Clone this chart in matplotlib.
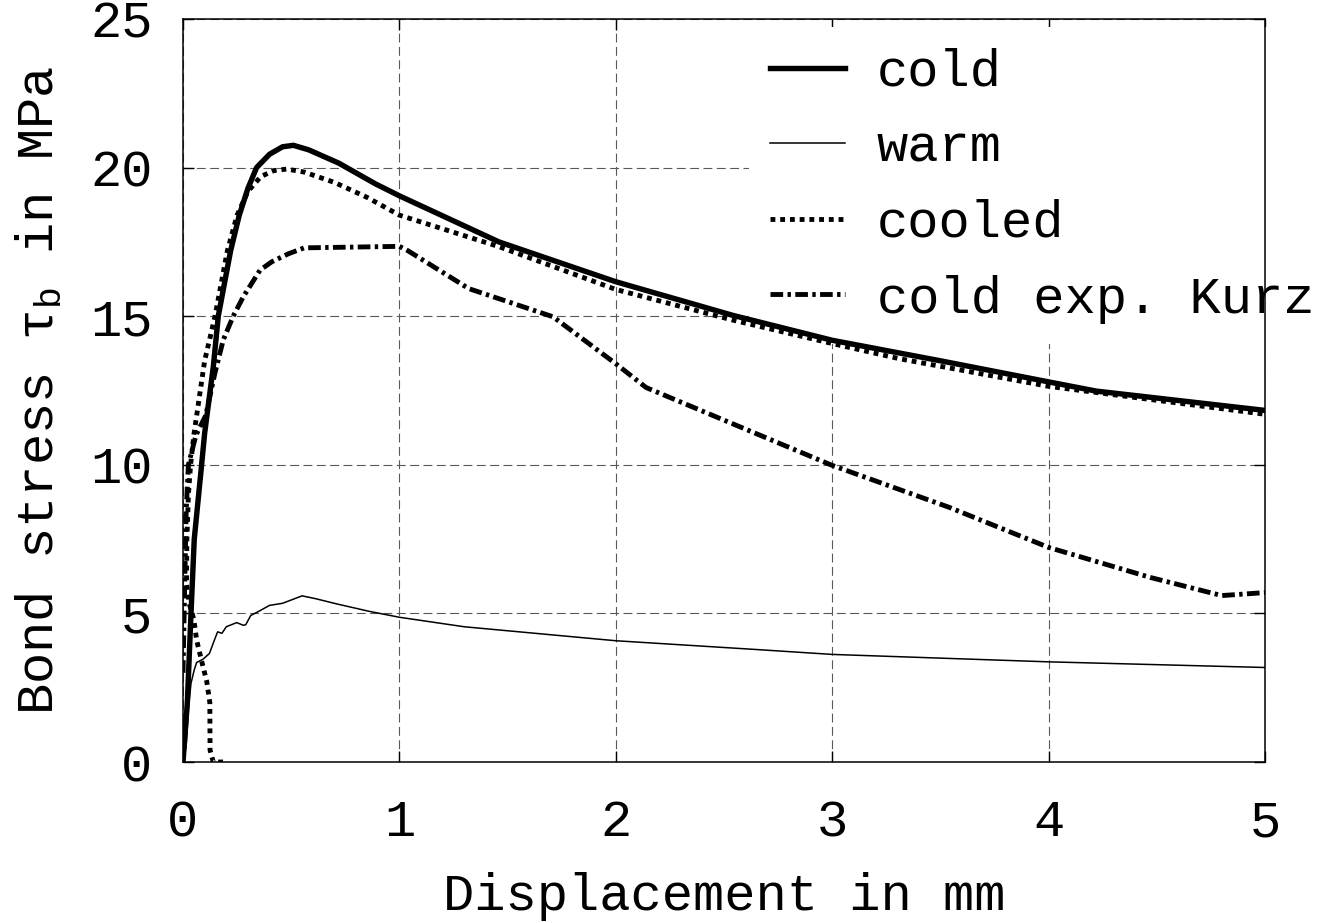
import numpy as np
import matplotlib
matplotlib.use("Agg")
import matplotlib.pyplot as plt

plt.rcParams['font.family'] = ['Liberation Mono', 'DejaVu Sans']
plt.rcParams['mathtext.fontset'] = 'custom'
plt.rcParams['mathtext.rm'] = 'Liberation Mono'
plt.rcParams['mathtext.it'] = 'Liberation Mono'

# ---- data (displacement in mm, bond stress in MPa) ----
cold_x = [0.0, 0.01, 0.02, 0.037, 0.052, 0.086, 0.10, 0.14, 0.163, 0.22, 0.26,
          0.30, 0.34, 0.40, 0.46, 0.51, 0.58, 0.72, 0.89, 1.0, 1.46, 2.0,
          2.54, 3.0, 3.5, 4.0, 4.22, 5.0]
cold_y = [0.0, 1.0, 2.0, 5.0, 7.5, 10.0, 11.06, 13.3, 15.0, 17.2, 18.4,
          19.3, 20.0, 20.45, 20.7, 20.75, 20.6, 20.15, 19.45, 19.05, 17.5, 16.16,
          15.03, 14.19, 13.5, 12.79, 12.48, 11.83]

warm_x = [0.0, 0.014, 0.026, 0.037, 0.052, 0.063, 0.091, 0.122, 0.145, 0.16,
          0.18, 0.20, 0.217, 0.248, 0.279, 0.29, 0.313, 0.35, 0.40, 0.46, 0.55,
          0.61, 0.71, 0.86, 1.0, 1.3, 2.0, 2.66, 3.0, 4.0, 5.0]
warm_y = [0.0, 0.5, 1.86, 2.65, 3.1, 3.35, 3.45, 3.65, 4.1, 4.38,
          4.33, 4.55, 4.6, 4.69, 4.6, 4.62, 4.93, 5.07, 5.27, 5.34, 5.59,
          5.5, 5.32, 5.07, 4.87, 4.55, 4.08, 3.78, 3.62, 3.37, 3.18]

cooled_x = [0.185, 0.14, 0.125, 0.124, 0.11, 0.086, 0.063, 0.05, 0.03, 0.016,
            0.018, 0.025, 0.035, 0.05, 0.07, 0.10, 0.148, 0.205, 0.25, 0.30,
            0.36, 0.42, 0.48, 0.56, 0.70, 0.85, 1.0, 1.46, 2.0, 2.54, 3.0,
            3.31, 4.0, 5.0]
cooled_y = [0.0, 0.0, 0.4, 2.0, 2.7, 3.4, 4.1, 4.8, 5.3, 6.0,
            7.5, 9.0, 10.0, 11.0, 12.0, 13.5, 15.0, 17.2, 18.4, 19.2,
            19.7, 19.9, 19.95, 19.85, 19.5, 19.0, 18.4, 17.34, 15.9, 14.87, 14.08,
            13.57, 12.64, 11.7]

kurz_x = [0.0, 0.008, 0.015, 0.025, 0.06, 0.105, 0.148, 0.186, 0.232, 0.279,
          0.356, 0.41, 0.487, 0.56, 1.0, 1.04, 1.32, 1.71, 2.0, 2.14, 2.54,
          3.0, 3.54, 4.0, 4.47, 4.8, 5.0]
kurz_y = [3.0, 6.0, 8.5, 10.0, 11.0, 11.66, 13.1, 14.2, 15.0, 15.66,
          16.55, 16.83, 17.1, 17.3, 17.35, 17.2, 15.93, 14.98, 13.4, 12.6, 11.38,
          9.98, 8.57, 7.22, 6.21, 5.6, 5.7]

x_ticks = [0, 1, 2, 3, 4, 5]
y_ticks = [0, 5, 10, 15, 20, 25]

fs = 37.5

fig = plt.figure(figsize=(13.3, 9.23), dpi=100)
ax = fig.add_axes([183 / 1330, 1 - 762 / 923, (1265 - 183) / 1330, (762 - 19) / 923])

ax.plot(cold_x, cold_y, color='black', lw=3.9, solid_joinstyle='round',
        label='cold', zorder=3)
ax.plot(warm_x, warm_y, color='black', lw=1.1, label='warm', zorder=3)
ax.plot(cooled_x, cooled_y, color='black', lw=3.5, linestyle=(0, (1, 1)),
        label='cooled', zorder=3)
ax.plot(kurz_x, kurz_y, color='black', lw=3.5, linestyle=(0, (2.6, 0.9, 0.7, 0.9)),
        label='cold exp. Kurz', zorder=3)

ax.set_xlim(0, 5)
ax.set_ylim(0, 25)
ax.set_xticks(x_ticks)
ax.set_yticks(y_ticks)
ax.tick_params(direction='in', length=8, width=1.0, top=True, right=True,
               labelsize=fs)
ax.tick_params(axis='x', pad=26)
ax.tick_params(axis='y', pad=22)
ax.grid(True, color='0.35', linestyle=(0, (8, 4)), linewidth=0.8)
for sp in ax.spines.values():
    sp.set_linewidth(1.1)
    sp.set_zorder(4)

ax.set_xlabel('Displacement in mm', fontsize=fs, labelpad=18)
ax.set_ylabel(r'Bond stress $\tau_\mathrm{b}$ in MPa', fontsize=fs, labelpad=19)

leg = ax.legend(loc='upper left', bbox_to_anchor=(749 / 1330, 1 - 27 / 923),
                bbox_transform=fig.transFigure, fontsize=fs, frameon=True,
                fancybox=False, framealpha=1.0, edgecolor='none',
                borderpad=0.4, borderaxespad=0, labelspacing=0.51,
                handlelength=1.45, handletextpad=0.6)
leg.set_zorder(1.6)

fig.savefig('out.png', dpi=100)
